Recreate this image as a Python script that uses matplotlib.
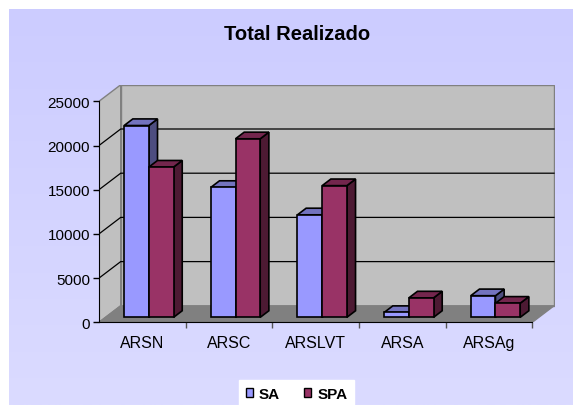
import numpy as np
import matplotlib.pyplot as plt
from matplotlib.patches import Polygon, Patch
from matplotlib.colors import LinearSegmentedColormap

plt.rcParams["font.family"] = ["Liberation Sans", "DejaVu Sans"]

# data
categories = ["ARSN", "ARSC", "ARSLVT", "ARSA", "ARSAg"]
sa = [21700, 14700, 11600, 550, 2450]
spa = [17000, 20200, 14900, 2200, 1600]
yticks = [0, 5000, 10000, 15000, 20000, 25000]
series_names = ["SA", "SPA"]

W, H = 573, 406
fig = plt.figure(figsize=(W / 100, H / 100), dpi=100)
fig.patch.set_facecolor("white")

# lavender gradient background
bg = fig.add_axes([9 / W, 0, 1 - 9 / W, 1 - 10 / H], zorder=-10)
grad = np.linspace(0, 1, 256).reshape(-1, 1)
cmap = LinearSegmentedColormap.from_list("bg", ["#CCCCFF", "#DBDBFF"])
bg.imshow(grad, aspect="auto", cmap=cmap, extent=[0, 1, 0, 1], origin="upper")
bg.axis("off")

# main axes = front plane of the 3d box
ax = fig.add_axes([99 / W, 1 - 323.3 / H, 456 / W, (323.3 - 86) / H])
ax.patch.set_alpha(0)
cat_px = 433.3 / len(categories)
val_px = 221 / 25000
DX = 21.7 / cat_px
DY = 16.5 / val_px
ax.set_xlim(-0.5, -0.5 + 456 / cat_px)
ax.set_ylim(0, 237.3 / val_px)

n = len(categories)
x0, x1 = -0.5, n - 0.5
ymax = yticks[-1]

# walls and floor
ax.add_patch(Polygon([(x0 + DX, DY), (x1 + DX, DY), (x1 + DX, ymax + DY), (x0 + DX, ymax + DY)],
                     fc="#C0C0C0", ec="#808080", lw=1, zorder=0))
ax.add_patch(Polygon([(x0, 0), (x0 + DX, DY), (x0 + DX, ymax + DY), (x0, ymax)],
                     fc="#C0C0C0", ec="#808080", lw=1, zorder=0))
for v in yticks[1:-1]:
    ax.plot([x0, x0 + DX, x1 + DX], [v, v + DY, v + DY], color="black", lw=0.9, zorder=1)
ax.add_patch(Polygon([(x0, 0), (x1, 0), (x1 + DX, DY), (x0 + DX, DY)],
                     fc="#808080", ec="#808080", lw=1, zorder=1))

# 3d bars
w = 0.285
f0, f1 = 0.3, 0.7
styles = [
    (sa, "#9999FF", "#7373BF", "#4D4D80"),
    (spa, "#993366", "#73264D", "#4D1A33"),
]
for i in range(n):
    for j, (vals, fc, tc, sc) in enumerate(styles):
        xl = i + (j - 1) * w
        xr = xl + w
        v = vals[i]
        z = 3 + i * 10 + j * 3
        ax.add_patch(Polygon([(xr + f0 * DX, f0 * DY), (xr + f1 * DX, f1 * DY),
                              (xr + f1 * DX, v + f1 * DY), (xr + f0 * DX, v + f0 * DY)],
                             fc=sc, ec="black", lw=1.2, zorder=z))
        ax.add_patch(Polygon([(xl + f0 * DX, v + f0 * DY), (xr + f0 * DX, v + f0 * DY),
                              (xr + f1 * DX, v + f1 * DY), (xl + f1 * DX, v + f1 * DY)],
                             fc=tc, ec="black", lw=1.2, zorder=z + 1))
        ax.bar(xl + f0 * DX, v, width=w, bottom=f0 * DY, align="edge",
               color=fc, edgecolor="black", lw=1.2, zorder=z + 2)

# axes lines and ticks
ax.spines["top"].set_visible(False)
ax.spines["right"].set_visible(False)
ax.spines["left"].set_bounds(0, ymax)
ax.spines["bottom"].set_bounds(x0, x1)
ax.spines["left"].set_zorder(100)
ax.spines["bottom"].set_zorder(100)
ax.set_yticks(yticks)
ax.set_yticklabels([str(t) for t in yticks], fontsize=11)
ax.tick_params(axis="y", length=4.5, width=1, pad=2)
ax.set_xticks(np.arange(n) + 0.5)
ax.set_xticklabels([])
ax.tick_params(axis="x", which="major", length=4, width=1, color="#555555")
ax.set_xticks(np.arange(n), minor=True)
ax.set_xticklabels(categories, minor=True, fontsize=11.5)
ax.tick_params(axis="x", which="minor", length=0, pad=9.5)

fig.text(297 / W, 1 - 35 / H, "Total Realizado", ha="center", va="center",
         fontsize=14.5, fontweight="bold")

handles = [Patch(facecolor="#9999FF", edgecolor="black"),
           Patch(facecolor="#993366", edgecolor="black")]
leg = fig.legend(handles, series_names, ncol=2, loc="center",
                 bbox_to_anchor=(296.5 / W, 1 - 395 / H), frameon=True, fancybox=False,
                 facecolor="white", edgecolor="white", framealpha=1,
                 handlelength=0.45, handleheight=0.45, handletextpad=0.4,
                 columnspacing=1.6, borderpad=0.45,
                 prop={"weight": "bold", "size": 11})

fig.savefig("out.png", dpi=100)
